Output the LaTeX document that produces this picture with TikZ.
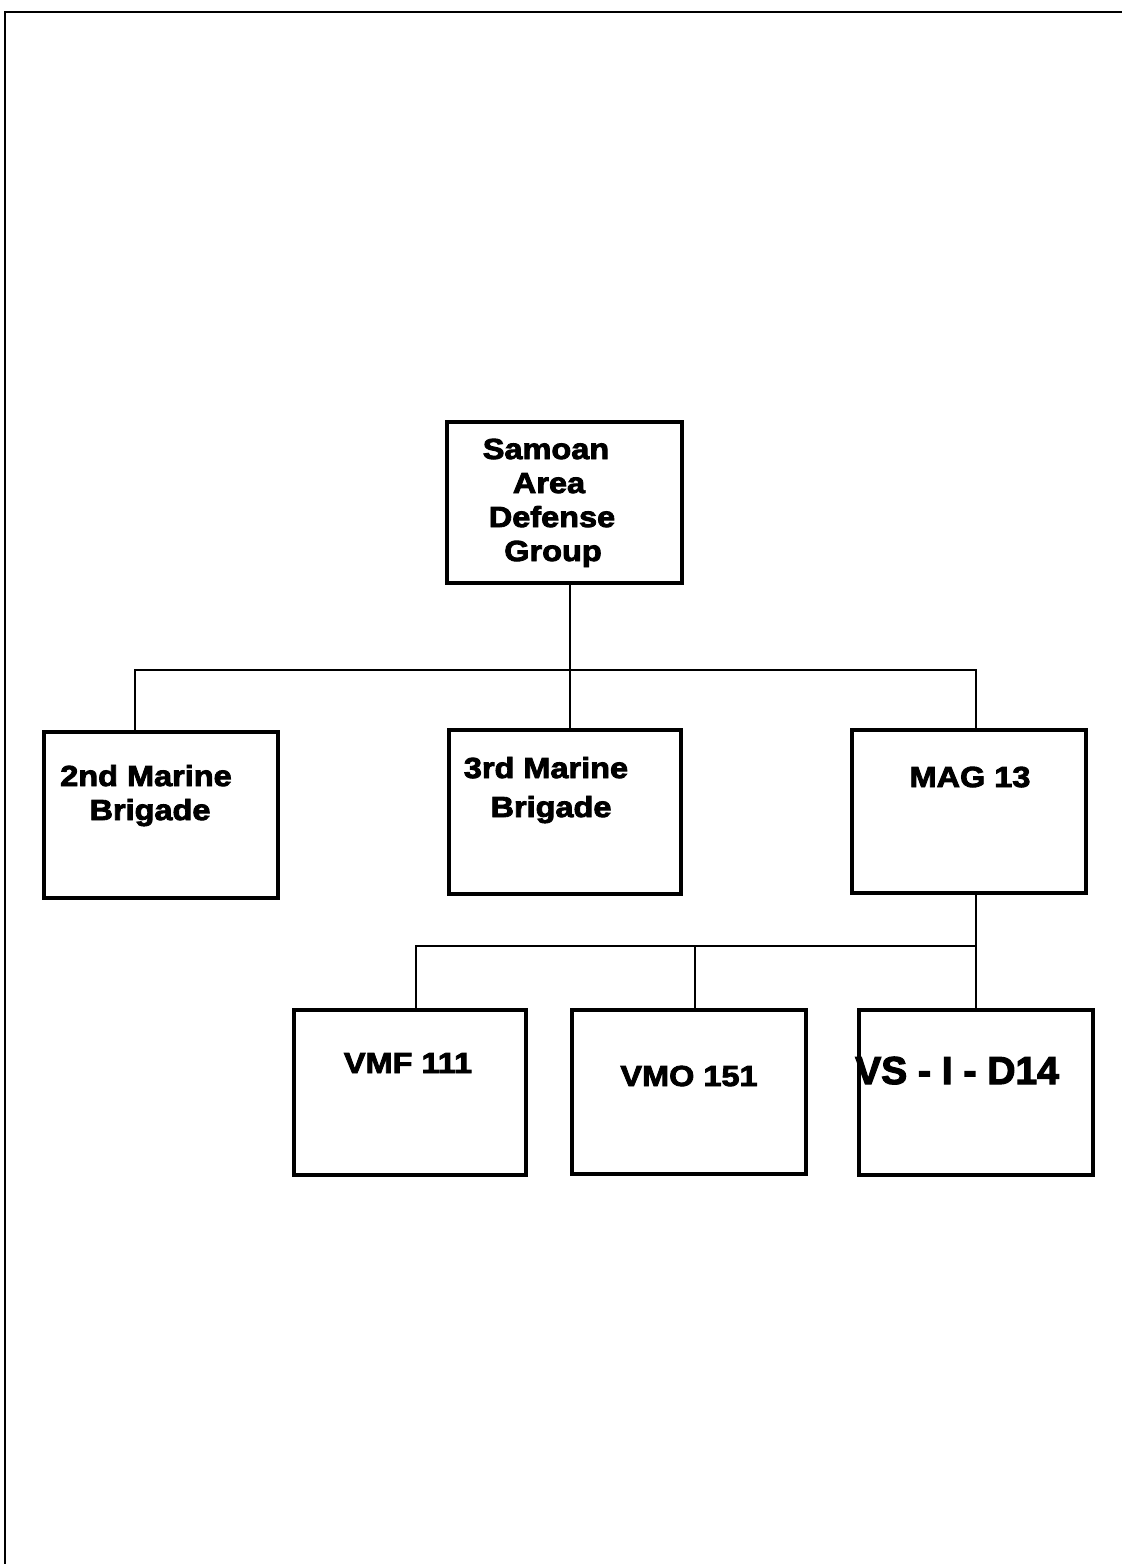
\documentclass[tikz,border=0pt]{standalone}
\usepackage{fontspec}
\newfontfamily\blk{Liberation Sans}[FakeStretch=1.12, BoldFeatures={FakeBold=3}]
\newfontfamily\blkwide{Liberation Sans}[BoldFeatures={FakeBold=3}]
\begin{document}
\begin{tikzpicture}[x=1pt,y=-1pt,
  box/.style={draw, line width=3.6pt, rectangle, inner sep=0pt},
  conn/.style={line width=1.6pt},
  frame/.style={line width=2.8pt},
  lbl/.style={anchor=base, inner sep=0pt, font=\blk\bfseries\fontsize{29}{34}\selectfont},
  lblbig/.style={anchor=base west, inner sep=0pt, font=\blkwide\bfseries\fontsize{39}{44}\selectfont}]
\useasboundingbox (0,0) rectangle (1122,1564);
% page frame (top and left edges)
\draw[frame] (4,12) -- (1122,12);
\draw[frame] (5,12) -- (5,1564);
% boxes
\node[box, minimum width=235pt, minimum height=161pt] (sam) at (564.5,502.5) {};
\node[box, minimum width=234pt, minimum height=166pt] (b2) at (161,815) {};
\node[box, minimum width=232pt, minimum height=164pt] (b3) at (565,812) {};
\node[box, minimum width=234pt, minimum height=163pt] (mag) at (969,811.5) {};
\node[box, minimum width=232pt, minimum height=165pt] (vmf) at (410,1092.5) {};
\node[box, minimum width=234pt, minimum height=164pt] (vmo) at (689,1092) {};
\node[box, minimum width=234pt, minimum height=165pt] (vs) at (976,1092.5) {};
% labels
\node[lbl] (t1) at (546,459) {Samoan};
\node[lbl] (t2) at (549,493) {Area};
\node[lbl] (t3) at (552,527) {Defense};
\node[lbl] (t4) at (553,561) {Group};
\node[lbl] (t5) at (146,786) {2nd Marine};
\node[lbl] (t6) at (150,820) {Brigade};
\node[lbl] (t7) at (546,778) {3rd Marine};
\node[lbl] (t8) at (551,817) {Brigade};
\node[lbl] (t9) at (970,787) {MAG 13};
\node[lbl] (t10) at (408,1073) {VMF 111};
\node[lbl] (t11) at (689,1086) {VMO 151};
\node[lblbig] (t12) at (855,1084) {VS - I - D14};
% connectors, upper level
\coordinate (j1) at (570,670);
\coordinate (jl) at (135,670);
\coordinate (jr) at (976,670);
\draw[conn] (sam.south -| j1) -- (j1);
\draw[conn] (b2.north -| jl) -- (jl) -- (jr) -- (mag.north -| jr);
\draw[conn] (j1) -- (b3.north -| j1);
% connectors, lower level
\coordinate (k1) at (976,946);
\coordinate (kl) at (416,946);
\coordinate (km) at (695,946);
\draw[conn] (mag.south -| k1) -- (k1) -- (vs.north -| k1);
\draw[conn] (vmf.north -| kl) -- (kl) -- (k1);
\draw[conn] (km) -- (vmo.north -| km);
\end{tikzpicture}
\end{document}
